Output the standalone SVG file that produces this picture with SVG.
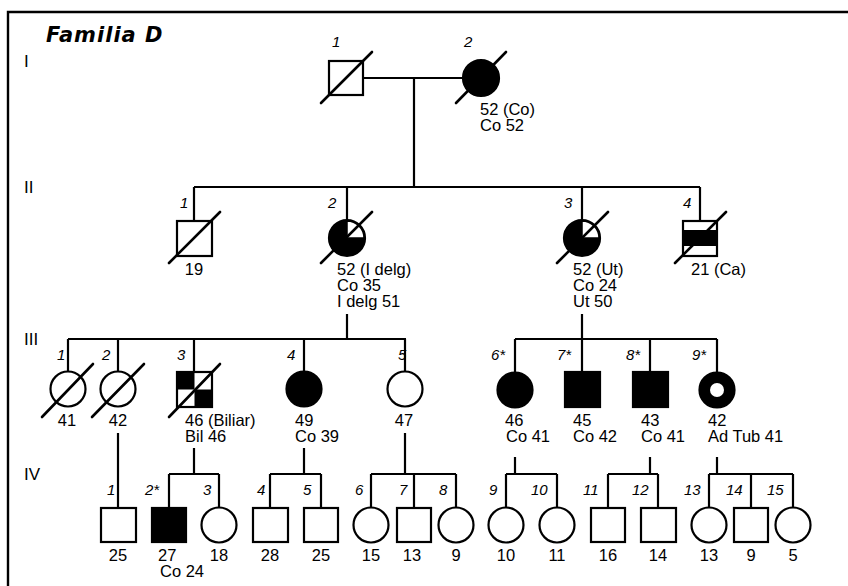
<svg xmlns="http://www.w3.org/2000/svg" width="848" height="586" viewBox="0 0 848 586">
<style>
.ln{stroke:#000;stroke-width:2.2;fill:none}
.sym{stroke:#000;stroke-width:2.2;fill:#fff}
.aff{stroke:#000;stroke-width:2.2;fill:#000}
.sl{stroke:#000;stroke-width:2.6;stroke-linecap:round}
.t{font-family:"Liberation Sans",Arial,sans-serif;font-size:16.5px;fill:#000}
.n{font-family:"Liberation Sans",Arial,sans-serif;font-size:15px;font-style:italic;fill:#000}
.m{text-anchor:middle}
.g{font-family:"Liberation Sans",Arial,sans-serif;font-size:17px;fill:#000}
</style>
<rect width="848" height="586" fill="#fff"/>
<path d="M8,586 V12 H848" stroke="#000" stroke-width="2.4" fill="none"/>
<text x="46" y="42" font-family="DejaVu Sans,sans-serif" font-weight="bold" font-style="italic" font-size="21" letter-spacing="1">Familia D</text>
<text class="g" x="24" y="67">I</text>
<text class="g" x="24" y="193">II</text>
<text class="g" x="24" y="345">III</text>
<text class="g" x="24" y="480">IV</text>

<g id="connectors" class="ln">
<path d="M363,78 H463 M414,78 V187 M194,187 H700 M194,187 V221 M347,187 V220 M582,187 V220 M700,187 V221"/>
<path d="M347,314 V339 M68,339 H406 M68,339 V371 M118,339 V371 M194,339 V372 M304,339 V371 M405,339 V371"/>
<path d="M582,314 V339 M515,339 H717 M515,339 V372 M582,339 V372 M650,339 V372 M717,339 V372"/>
<path d="M118,433 V508"/>
<path d="M194,448 V474 M169,474 H219 M169,474 V508 M219,474 V507"/>
<path d="M304,448 V474 M270,474 H321 M270,474 V508 M321,474 V508"/>
<path d="M405,433 V474 M371,474 H456 M371,474 V507 M414,474 V508 M456,474 V507"/>
<path d="M515,457 V474 M506,474 H557 M506,474 V507 M557,474 V507"/>
<path d="M650,457 V474 M608,474 H658 M608,474 V508 M658,474 V508"/>
<path d="M717,457 V474 M709,474 H793 M709,474 V507 M751,474 V508 M793,474 V507"/>
</g>

<g id="I-1">
<rect class="sym" x="329" y="61" width="34" height="34"/>
<line class="sl" x1="321" y1="103" x2="372" y2="52"/>
<text class="n" x="332" y="47">1</text>
</g>
<g id="I-2">
<circle class="aff" cx="481" cy="78" r="18"/>
<line class="sl" x1="456" y1="103" x2="506" y2="52"/>
<text class="n" x="464" y="47" font-style="normal">2</text>
<text class="t" x="480" y="115">52 (Co)</text>
<text class="t" x="480" y="131">Co 52</text>
</g>

<g id="II-1">
<rect class="sym" x="177" y="221" width="35" height="35"/>
<line class="sl" x1="169" y1="263" x2="220" y2="212"/>
<text class="n" x="180" y="208">1</text>
<text class="t m" x="194" y="275">19</text>
</g>
<g id="II-2">
<circle class="aff" cx="347" cy="238" r="18"/>
<path d="M347,238 V221 A17,17 0 0 1 364,238 Z" fill="#fff" stroke="#000" stroke-width="1.5"/>
<line class="sl" x1="321" y1="263" x2="372" y2="212"/>
<text class="n" x="328" y="208" font-style="normal">2</text>
<text class="t" x="337" y="275">52 (I delg)</text>
<text class="t" x="337" y="291">Co 35</text>
<text class="t" x="337" y="307">I delg 51</text>
</g>
<g id="II-3">
<circle class="aff" cx="582" cy="238" r="18"/>
<path d="M582,238 V221 A17,17 0 0 1 599,238 Z" fill="#fff" stroke="#000" stroke-width="1.5"/>
<line class="sl" x1="557" y1="263" x2="608" y2="212"/>
<text class="n" x="564" y="208">3</text>
<text class="t" x="573" y="275">52 (Ut)</text>
<text class="t" x="573" y="291">Co 24</text>
<text class="t" x="573" y="307">Ut 50</text>
</g>
<g id="II-4">
<rect class="sym" x="683" y="221" width="34" height="35"/>
<rect x="683" y="230" width="34" height="16" fill="#000"/>
<line class="sl" x1="675" y1="263" x2="726" y2="212"/>
<text class="n" x="683" y="208">4</text>
<text class="t" x="691" y="275">21 (Ca)</text>
</g>

<g id="III-1">
<circle class="sym" cx="68" cy="389" r="17.5"/>
<line class="sl" x1="42" y1="417" x2="93" y2="364"/>
<text class="n" x="57" y="360">1</text>
<text class="t m" x="67" y="426">41</text>
</g>
<g id="III-2">
<circle class="sym" cx="118" cy="389" r="17.5"/>
<line class="sl" x1="92" y1="417" x2="144" y2="364"/>
<text class="n" x="102" y="360" font-style="normal">2</text>
<text class="t m" x="118" y="426">42</text>
</g>
<g id="III-3">
<rect class="sym" x="177" y="372" width="35" height="35"/>
<rect x="177" y="372" width="17.5" height="17.5" fill="#000"/>
<rect x="194.5" y="389.5" width="17.5" height="17.5" fill="#000"/>
<line class="sl" x1="169" y1="417" x2="220" y2="364"/>
<text class="n" x="177" y="360">3</text>
<text class="t" x="185" y="426">46 (Biliar)</text>
<text class="t" x="185" y="442">Bil 46</text>
</g>
<g id="III-4">
<circle class="aff" cx="304" cy="389" r="17.5"/>
<text class="n" x="287" y="360">4</text>
<text class="t" x="295" y="426">49</text>
<text class="t" x="295" y="442">Co 39</text>
</g>
<g id="III-5">
<circle class="sym" cx="405" cy="389" r="17.5"/>
<text class="n" x="398" y="360">5</text>
<text class="t m" x="404" y="426">47</text>
</g>
<g id="III-6">
<circle class="aff" cx="515" cy="390" r="17.5"/>
<text class="n" x="491" y="360">6*</text>
<text class="t" x="505" y="426">46</text>
<text class="t" x="506" y="442">Co 41</text>
</g>
<g id="III-7">
<rect class="aff" x="565" y="372" width="35" height="35"/>
<text class="n" x="557" y="360">7*</text>
<text class="t" x="573" y="426">45</text>
<text class="t" x="573" y="442">Co 42</text>
</g>
<g id="III-8">
<rect class="aff" x="633" y="372" width="35" height="35"/>
<text class="n" x="626" y="360">8*</text>
<text class="t" x="641" y="426">43</text>
<text class="t" x="641" y="442">Co 41</text>
</g>
<g id="III-9">
<circle class="aff" cx="717" cy="390" r="17.5"/>
<circle cx="717" cy="390" r="7" fill="#fff"/>
<text class="n" x="692" y="360">9*</text>
<text class="t" x="708" y="426">42</text>
<text class="t" x="708" y="442">Ad Tub 41</text>
</g>

<g id="IV-1"><rect class="sym" x="101" y="508" width="35" height="34"/><text class="n" x="107" y="495">1</text><text class="t m" x="118" y="561">25</text></g>
<g id="IV-2"><rect class="aff" x="152" y="508" width="34" height="34"/><text class="n" x="145" y="495" font-style="normal">2*</text><text class="t" x="158" y="561">27</text><text class="t" x="160" y="577">Co 24</text></g>
<g id="IV-3"><circle class="sym" cx="219" cy="525" r="17.5"/><text class="n" x="203" y="495">3</text><text class="t m" x="219" y="561">18</text></g>
<g id="IV-4"><rect class="sym" x="253" y="508" width="35" height="34"/><text class="n" x="257" y="495">4</text><text class="t m" x="270" y="561">28</text></g>
<g id="IV-5"><rect class="sym" x="304" y="508" width="34" height="34"/><text class="n" x="303" y="495">5</text><text class="t m" x="321" y="561">25</text></g>
<g id="IV-6"><circle class="sym" cx="371" cy="525" r="17.5"/><text class="n" x="355" y="495">6</text><text class="t m" x="371" y="561">15</text></g>
<g id="IV-7"><rect class="sym" x="397" y="508" width="34" height="34"/><text class="n" x="399" y="495">7</text><text class="t m" x="412" y="561">13</text></g>
<g id="IV-8"><circle class="sym" cx="456" cy="525" r="17.5"/><text class="n" x="439" y="495">8</text><text class="t m" x="456" y="561">9</text></g>
<g id="IV-9"><circle class="sym" cx="506" cy="525" r="17.5"/><text class="n" x="489" y="495">9</text><text class="t m" x="506" y="561">10</text></g>
<g id="IV-10"><circle class="sym" cx="557" cy="525" r="17.5"/><text class="n" x="531" y="495">10</text><text class="t m" x="557" y="561">11</text></g>
<g id="IV-11"><rect class="sym" x="591" y="508" width="34" height="34"/><text class="n" x="583" y="495">11</text><text class="t m" x="608" y="561">16</text></g>
<g id="IV-12"><rect class="sym" x="641" y="508" width="35" height="34"/><text class="n" x="632" y="495">12</text><text class="t m" x="658" y="561">14</text></g>
<g id="IV-13"><circle class="sym" cx="709" cy="525" r="17.5"/><text class="n" x="684" y="495">13</text><text class="t m" x="709" y="561">13</text></g>
<g id="IV-14"><rect class="sym" x="734" y="508" width="34" height="34"/><text class="n" x="726" y="495">14</text><text class="t m" x="751" y="561">9</text></g>
<g id="IV-15"><circle class="sym" cx="793" cy="525" r="17.5"/><text class="n" x="767" y="495">15</text><text class="t m" x="793" y="561">5</text></g>
</svg>
